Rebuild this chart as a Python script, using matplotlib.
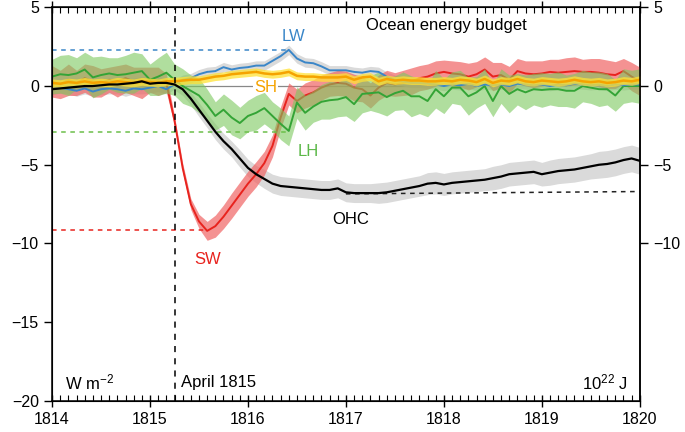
import numpy as np
import matplotlib
matplotlib.use("Agg")
import matplotlib.pyplot as plt
from matplotlib.ticker import MultipleLocator

plt.rcParams['font.family'] = ['Liberation Sans', 'DejaVu Sans']
plt.rcParams['mathtext.fontset'] = 'custom'
plt.rcParams['mathtext.rm'] = 'Liberation Sans'
plt.rcParams['mathtext.it'] = 'Liberation Sans:italic'

# monthly values, Jan 1814 .. Jan 1820
months = 1814 + np.arange(73) / 12.0
eruption = 1815.25

sw = [0.3, 0.1, 0.4, 0.2, 0.5, 0.3, 0.2, 0.4, 0.3, 0.5, 0.3, 0.2, 0.4, 0.3, 0.2,
      -2.2, -5.2, -7.5, -8.6, -9.2, -8.9, -8.3, -7.6, -6.9, -6.2, -5.6, -4.9, -3.8,
      -2.0, -0.5, -0.95, -0.6, -0.4, -0.1, 0.1, 0.2, 0.15, -0.1, -0.2, -0.6, -0.1,
      0.2, 0.1, 0.2, 0.3, 0.5, 0.6, 0.8, 0.9, 0.8, 0.75, 0.6, 0.75, 1.05, 0.6, 0.7,
      0.4, 0.95, 0.8, 0.75, 0.8, 0.9, 0.85, 0.9, 0.95, 0.9, 0.9, 0.85, 0.75, 0.7,
      0.95, 0.6, 0.3]
sw_err = [1.0, 0.9, 1.0, 0.8, 0.9, 1.0, 0.9, 0.8, 1.0, 0.9, 0.9, 1.0, 0.8, 0.9, 0.6,
          0.3, 0.3, 0.35, 0.45, 0.6, 0.7, 0.75, 0.8, 0.8, 0.8, 0.8, 0.75, 0.7,
          0.7, 0.7, 0.75, 0.8, 0.8, 0.8, 0.75, 0.8, 0.8, 0.85, 0.8, 0.8, 0.8,
          0.8, 0.75, 0.8, 0.85, 0.8, 0.8, 0.8, 0.75, 0.8, 0.8, 0.85, 0.8, 0.8, 0.9, 0.8,
          0.85, 0.8, 0.8, 0.85, 0.8, 0.8, 0.85, 0.9, 0.9, 0.8, 0.85, 0.9, 0.9, 0.85,
          0.8, 0.9, 0.9]

lw = [-0.2, -0.1, -0.2, -0.3, -0.15, -0.35, -0.2, -0.15, -0.2, -0.3, -0.15, -0.2, -0.1,
      0.0, -0.2, 0.1, 0.4, 0.5, 0.75, 0.9, 0.95, 1.2, 1.05, 1.15, 1.2, 1.3, 1.3, 1.6,
      1.9, 2.3, 1.75, 1.5, 1.45, 1.25, 1.0, 1.0, 1.0, 0.9, 0.85, 0.95, 0.9, 0.6, 0.4,
      0.3, 0.2, 0.2, 0.15, 0.1, 0.0, 0.1, 0.05, 0.15, 0.0, 0.1, 0.05, 0.1, 0.0, 0.15,
      0.1, 0.05, 0.1, 0.0, 0.1, 0.05, 0.15, 0.1, 0.05, 0.1, 0.0, 0.1, 0.05, 0.1, 0.1]
lw_err = [0.35, 0.35, 0.3, 0.35, 0.35, 0.3, 0.35, 0.35, 0.3, 0.35, 0.35, 0.3, 0.35,
          0.35, 0.3, 0.3, 0.3, 0.3, 0.3, 0.3, 0.3, 0.3, 0.3, 0.3, 0.3, 0.3, 0.3, 0.3,
          0.3, 0.3, 0.3, 0.3, 0.3, 0.3, 0.3, 0.3, 0.3, 0.3, 0.3, 0.3, 0.3, 0.3, 0.3,
          0.3, 0.3, 0.3, 0.3, 0.3, 0.3, 0.3, 0.3, 0.3, 0.3, 0.3, 0.3, 0.3, 0.3, 0.3,
          0.3, 0.3, 0.3, 0.3, 0.3, 0.3, 0.3, 0.3, 0.3, 0.3, 0.3, 0.3, 0.3, 0.3, 0.3]

lh = [0.6, 0.75, 0.7, 0.8, 1.05, 0.55, 0.7, 0.8, 0.7, 0.75, 0.85, 0.95, 0.4, 0.6, 0.85,
      0.4, 0.0, -0.3, -0.6, -1.2, -1.9, -1.5, -2.0, -2.35, -1.9, -1.7, -1.4, -1.9,
      -2.4, -2.85, -1.05, -1.7, -1.3, -1.0, -0.9, -0.85, -0.7, -1.15, -0.5, -0.45,
      -0.4, -0.7, -0.45, -0.3, -0.65, -0.65, -0.95, -0.2, -0.65, -0.1, -0.1, -0.65,
      -0.4, 0.0, -0.95, 0.0, -0.5, -0.2, -0.4, -0.2, -0.25, -0.2, -0.2, -0.3, -0.3,
      0.0, -0.1, -0.2, -0.2, -0.6, 0.0, 0.0, 0.0]
lh_err = [1.1, 1.2, 1.3, 1.0, 1.1, 1.3, 1.2, 1.0, 1.1, 1.2, 1.3, 1.1, 1.0, 1.2, 1.3,
          1.0, 1.1, 1.0, 1.1, 1.0, 0.9, 1.0, 1.1, 1.0, 1.0, 1.1, 1.0, 0.9,
          1.0, 0.95, 1.0, 1.1, 1.0, 1.1, 1.2, 1.1, 1.2, 1.1, 1.2, 1.1, 1.3,
          1.2, 1.1, 1.2, 1.3, 1.1, 1.0, 1.2, 1.1, 1.0, 1.1, 1.2, 1.0, 1.1, 1.0, 1.1,
          1.2, 1.0, 1.1, 1.0, 1.1, 1.0, 1.1, 1.0, 1.1, 1.0, 1.0, 1.1, 1.0, 1.0,
          1.1, 1.0, 1.1]

sh = [0.2, 0.15, 0.25, 0.2, 0.3, 0.2, 0.25, 0.2, 0.3, 0.25, 0.2, 0.3, 0.25, 0.2, 0.3,
      0.3, 0.35, 0.4, 0.4, 0.5, 0.6, 0.65, 0.75, 0.8, 0.85, 0.9, 0.8, 0.75, 0.8, 0.9,
      0.65, 0.6, 0.6, 0.55, 0.55, 0.55, 0.6, 0.4, 0.55, 0.6, 0.3, 0.45, 0.35, 0.4,
      0.35, 0.35, 0.3, 0.3, 0.35, 0.3, 0.4, 0.35, 0.25, 0.45, 0.2, 0.35, 0.3, 0.45,
      0.3, 0.25, 0.35, 0.3, 0.25, 0.3, 0.4, 0.3, 0.25, 0.3, 0.2, 0.25, 0.35, 0.3, 0.4]
sh_err = [0.25] * 73

ohc = [-0.2, -0.15, -0.1, -0.05, 0.0, 0.0, 0.05, 0.1, 0.1, 0.15, 0.2, 0.3, 0.15, 0.2,
       0.2, 0.1, -0.2, -0.8, -1.5, -2.2, -2.9, -3.5, -4.0, -4.6, -5.2, -5.6, -5.9,
       -6.2, -6.35, -6.4, -6.45, -6.5, -6.55, -6.6, -6.6, -6.5, -6.75, -6.8, -6.8,
       -6.8, -6.8, -6.75, -6.65, -6.55, -6.45, -6.35, -6.2, -6.15, -6.25, -6.15,
       -6.1, -6.05, -6.0, -5.95, -5.85, -5.75, -5.6, -5.55, -5.5, -5.45, -5.6, -5.5,
       -5.4, -5.35, -5.3, -5.2, -5.1, -5.0, -4.95, -4.85, -4.7, -4.6, -4.75]
ohc_err = [0.3, 0.3, 0.3, 0.3, 0.3, 0.3, 0.3, 0.3, 0.3, 0.3, 0.3, 0.3, 0.3, 0.3,
           0.3, 0.35, 0.4, 0.4, 0.45, 0.45, 0.5, 0.5, 0.5, 0.55, 0.55, 0.55, 0.6,
           0.6, 0.6, 0.6, 0.6, 0.6, 0.6, 0.6, 0.6, 0.6, 0.6, 0.6, 0.6,
           0.6, 0.65, 0.65, 0.65, 0.65, 0.65, 0.65, 0.7, 0.7, 0.7, 0.7,
           0.7, 0.7, 0.7, 0.7, 0.75, 0.75, 0.75, 0.75, 0.75, 0.75, 0.75, 0.8,
           0.8, 0.8, 0.8, 0.8, 0.8, 0.85, 0.85, 0.85, 0.85, 0.85, 0.85]

# reference levels (peak anomalies) and OHC trend
sw_min, lw_max, lh_min = -9.17, 2.3, -2.9
ohc_trend_x = [1817.0, 1820.0]
ohc_trend_y = [-6.85, -6.7]

c_sw, c_sw_band = '#e8231e', '#f06464'
c_lw = '#3a86c8'
c_lh, c_lh_band = '#34a436', '#7cc85e'
c_sh, c_sh_band = '#f5a300', '#ffe236'


def band(ax, y, err, color, alpha, z):
    y, err = np.asarray(y), np.asarray(err)
    ax.fill_between(months, y - err, y + err, color=color, alpha=alpha,
                    linewidth=0, zorder=z)


fig = plt.figure(figsize=(6.85, 4.32), dpi=100)
ax = fig.add_axes([0.076, 0.072, 0.858, 0.911])

ax.axhline(0, color='#888888', lw=0.9, zorder=1)

band(ax, ohc, ohc_err, '#d6d6d6', 0.9, 2)
band(ax, lw, lw_err, '#d6d6d6', 0.9, 2)
band(ax, sw, sw_err, c_sw_band, 0.7, 3)
ax.plot(months, sw, color=c_sw, lw=1.4, zorder=4)
band(ax, lh, lh_err, c_lh_band, 0.6, 5)
ax.plot(months, lh, color=c_lh, lw=1.4, zorder=6)
ax.plot(months, lw, color=c_lw, lw=1.4, zorder=6)
band(ax, sh, sh_err, c_sh_band, 0.75, 7)
ax.plot(months, sh, color=c_sh, lw=1.8, zorder=8)
ax.plot(ohc_trend_x, ohc_trend_y, color='#222222', lw=1.1, ls=(0, (3, 3)), zorder=8)
ax.plot(months, ohc, color='black', lw=1.6, zorder=9)

# dashed reference levels
ax.plot([1814, months[19]], [sw_min, sw_min], color=c_sw, lw=1.1, ls=(0, (3, 3)), zorder=8)
ax.plot([1814, months[29]], [lw_max, lw_max], color=c_lw, lw=1.1, ls=(0, (3, 3)), zorder=8)
ax.plot([1814, months[28] + 0.05], [lh_min, lh_min], color='#6cbf4a', lw=1.1,
        ls=(0, (3, 3)), zorder=8)
ax.axvline(eruption, color='black', lw=1.1, ls=(0, (4, 4)), zorder=9)

ax.set_xlim(1814, 1820)
ax.set_ylim(-20, 5)
ax.set_xticks(range(1814, 1821))
ax.xaxis.set_minor_locator(MultipleLocator(1 / 12))
ax.set_yticks([5, 0, -5, -10, -15, -20])
ax.set_yticklabels(['5', '0', '\u22125', '\u221210', '\u221215', '\u221220'])
ax.tick_params(axis='x', which='major', direction='inout', length=8, width=1,
               top=True, labelsize=11.5, pad=4)
ax.tick_params(axis='x', which='minor', direction='in', length=4, width=0.8, top=True)
ax.tick_params(axis='y', which='major', direction='out', length=6, width=1,
               labelsize=11.5)
for s in ax.spines.values():
    s.set_linewidth(1.1)

ax2 = ax.twinx()
ax2.set_ylim(-20, 5)
ax2.set_yticks([5, 0, -5, -10])
ax2.set_yticklabels(['5', '0', '\u22125', '\u221210'])
ax2.tick_params(axis='y', direction='out', length=6, width=1, labelsize=11.5)
ax2.spines['right'].set_linewidth(1.1)

ax.text(1816.46, 3.15, 'LW', color=c_lw, fontsize=12, ha='center', va='center', zorder=10)
ax.text(1816.18, -0.08, 'SH', color=c_sh, fontsize=12, ha='center', va='center',
        zorder=3, bbox=dict(facecolor='white', edgecolor='none', pad=0.5))
ax.text(1816.62, -4.15, 'LH', color='#5cb848', fontsize=12, ha='center', va='center')
ax.text(1815.59, -11.0, 'SW', color=c_sw, fontsize=12, ha='center', va='center')
ax.text(1817.05, -8.5, 'OHC', color='black', fontsize=12, ha='center', va='center')
ax.text(1818.03, 3.85, 'Ocean energy budget', fontsize=12, ha='center', va='center')
ax.text(1814.13, -18.8, 'W m$^{-2}$', fontsize=12, ha='left', va='center')
ax.text(1815.32, -18.8, 'April 1815', fontsize=12, ha='left', va='center')
ax.text(1819.88, -18.8, '10$^{22}$ J', fontsize=12, ha='right', va='center')

fig.savefig('out.png', dpi=100)
